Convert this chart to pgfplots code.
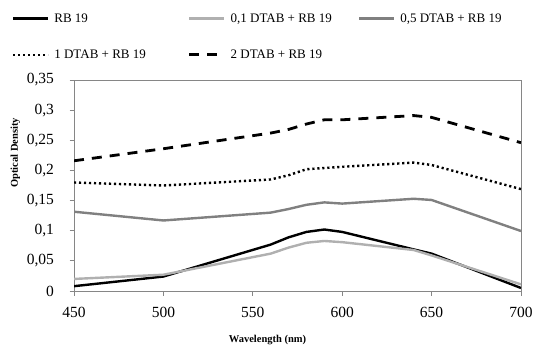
\documentclass[border=0pt]{standalone}
\usepackage{pgfplots}
\pgfplotsset{compat=1.18}
\usepackage{fontspec}
\setmainfont{Liberation Serif}
\definecolor{lgray}{RGB}{176,176,176}
\definecolor{mgray}{RGB}{128,128,128}
\definecolor{axgray}{RGB}{134,134,134}
\begin{document}
\begin{tikzpicture}[x=1pt,y=1pt]
\useasboundingbox (0,0) rectangle (534,346);
\begin{axis}[
  at={(74pt,55pt)}, anchor=south west,
  scale only axis, width=447pt, height=211pt,
  xmin=450, xmax=700, ymin=0, ymax=0.35,
  xtick={450,500,550,600,650,700},
  xticklabels={450,500,550,600,650,700},
  ytick={0,0.05,0.1,0.15,0.2,0.25,0.3,0.35},
  yticklabels={0,{0,05},{0,1},{0,15},{0,2},{0,25},{0,3},{0,35}},
  axis line style={axgray, line width=0.8pt},
  tick style={axgray, line width=0.8pt},
  tick align=outside, major tick length=4.5pt,
  xtick pos=bottom, ytick pos=left,
  tick label style={font=\fontsize{15.5}{17}\selectfont},
  xticklabel style={yshift=-8pt},
  yticklabel style={xshift=-12pt},
  xlabel={\textbf{Wavelength (nm)}},
  ylabel={\textbf{Optical Density}},
  xlabel style={font=\fontsize{10.5}{12}\selectfont, at={(axis description cs:0.433,-0.23)}, anchor=center},
  ylabel style={font=\fontsize{10.5}{12}\selectfont, at={(axis description cs:-0.131,0.655)}, anchor=center},
  legend columns=3,
  legend style={at={(axis description cs:-0.146,1.335)}, anchor=north west, draw=none, fill=none,
    font=\fontsize{13}{15}\selectfont, row sep=22pt,
    /tikz/column 1/.style={column sep=3pt},
    /tikz/column 2/.style={column sep=40pt},
    /tikz/column 3/.style={column sep=3pt},
    /tikz/column 4/.style={column sep=24pt},
    /tikz/column 5/.style={column sep=3pt}},
  legend cell align=left,
  legend image code/.code={\draw[#1] (0pt,0pt) -- (35pt,0pt);},
]
\addplot[black, line width=2.4pt] coordinates {
(450,0.008) (500,0.024) (560,0.077) (570,0.089) (580,0.098) (590,0.102) (600,0.098) (640,0.069) (650,0.062) (700,0.005)};
\addlegendentry{RB 19}
\addplot[lgray, line width=2.4pt] coordinates {
(450,0.020) (500,0.027) (560,0.062) (570,0.072) (580,0.080) (590,0.083) (600,0.081) (640,0.068) (650,0.059) (700,0.011)};
\addlegendentry{0,1 DTAB + RB 19}
\addplot[mgray, line width=2.4pt] coordinates {
(450,0.1315) (500,0.117) (560,0.130) (570,0.136) (580,0.143) (590,0.147) (600,0.145) (640,0.153) (650,0.151) (700,0.0995)};
\addlegendentry{0,5 DTAB + RB 19}
\addplot[black, line width=2.4pt, dash pattern=on 2.2pt off 2.8pt] coordinates {
(450,0.180) (500,0.175) (560,0.185) (570,0.192) (580,0.202) (590,0.204) (600,0.206) (640,0.213) (650,0.209) (700,0.169)};
\addlegendentry{1 DTAB + RB 19}
\addplot[black, line width=2.8pt, dash pattern=on 10pt off 8pt] coordinates {
(450,0.216) (500,0.236) (560,0.262) (570,0.268) (580,0.277) (590,0.284) (600,0.284) (640,0.291) (650,0.288) (700,0.246)};
\addlegendentry{2 DTAB + RB 19}
\end{axis}
\end{tikzpicture}
\end{document}
